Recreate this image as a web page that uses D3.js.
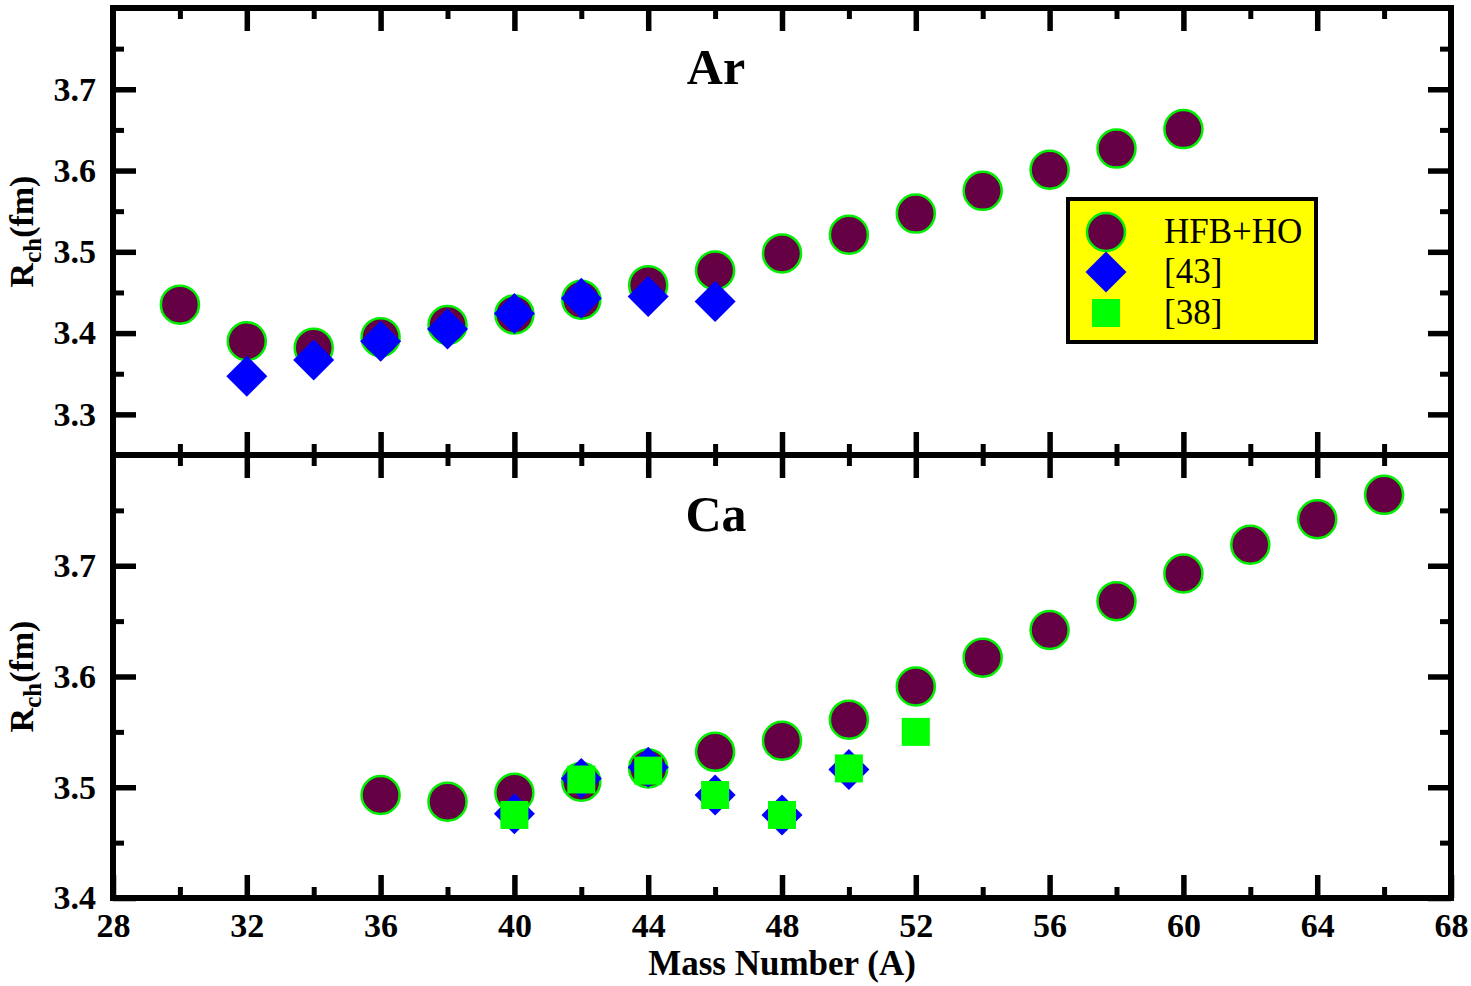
<!doctype html>
<html lang="en">
<head>
<meta charset="utf-8">
<title>Charge radii Ar / Ca</title>
<script src="https://cdn.jsdelivr.net/npm/d3@7"></script>
<style>
  body { margin: 0; background: #fff; }
  text { font-family: "Liberation Serif", "Times New Roman", serif; }
</style>
</head>
<body>
<div id="chart"></div>
<script>
// ---- data ----
var xMajor = [28, 32, 36, 40, 44, 48, 52, 56, 60, 64, 68];
var xMinor = [30, 34, 38, 42, 46, 50, 54, 58, 62, 66];

// Ar panel
var arMassHFB = [30, 32, 34, 36, 38, 40, 42, 44, 46, 48, 50, 52, 54, 56, 58, 60];
var arRadHFB = [3.435, 3.390, 3.382, 3.395, 3.410, 3.423, 3.441, 3.459, 3.477, 3.498, 3.521, 3.547, 3.575, 3.601, 3.627, 3.651];
var arMass43 = [32, 34, 36, 38, 40, 42, 44, 46];
var arRad43 = [3.347, 3.367, 3.390, 3.405, 3.424, 3.443, 3.445, 3.439];
var arYMajor = [3.3, 3.4, 3.5, 3.6, 3.7];
var arYMinor = [3.35, 3.45, 3.55, 3.65, 3.75];

// Ca panel
var caMassHFB = [36, 38, 40, 42, 44, 46, 48, 50, 52, 54, 56, 58, 60, 62, 64, 66];
var caRadHFB = [3.493, 3.487, 3.495, 3.505, 3.517, 3.532, 3.542, 3.561, 3.591, 3.617, 3.642, 3.668, 3.693, 3.719, 3.742, 3.764];
var caMass43 = [40, 42, 44, 46, 48, 50];
var caRad43 = [3.476, 3.508, 3.518, 3.493, 3.475, 3.516];
var caMass38 = [40, 42, 44, 46, 48, 50, 52];
var caRad38 = [3.475, 3.507, 3.515, 3.493, 3.475, 3.517, 3.550];
var caYMajor = [3.4, 3.5, 3.6, 3.7];
var caYMinor = [3.45, 3.55, 3.65, 3.75];

var legendLabels = ["HFB+HO", "[43]", "[38]"];

// ---- layout ----
var W = 1471, H = 986;
var pLeft = 113, pRight = 1451, pTop = 8, pMid = 455, pBottom = 898;

var svg = d3.select("#chart").append("svg")
  .attr("width", W).attr("height", H);

var x = d3.scaleLinear().domain([28, 68]).range([pLeft, pRight]);

function zip(a, b) {
  return a.map(function(d, i) { return {x: d, y: b[i]}; });
}

function styleAxis(g, w) {
  g.select(".domain").remove();
  g.selectAll(".tick line").attr("stroke", "#000").attr("stroke-width", w);
  g.selectAll(".tick text")
    .attr("fill", "#000")
    .style("font-family", "'Liberation Serif', serif")
    .style("font-weight", "bold")
    .style("font-size", "34px");
}

function drawPanel(y0, y1, domain, yMajor, yMinor, showX, name) {
  var y = d3.scaleLinear().domain(domain).range([y1, y0]);
  var g = svg.append("g");
  var major = 23, minor = 11;

  // left
  g.append("g").attr("transform", "translate(" + pLeft + ",0)")
    .call(d3.axisLeft(y).tickValues(yMajor).tickSize(-major).tickPadding(17).tickFormat(d3.format(".1f")))
    .call(styleAxis, 5.5);
  g.append("g").attr("transform", "translate(" + pLeft + ",0)")
    .call(d3.axisLeft(y).tickValues(yMinor).tickSize(-minor).tickFormat(""))
    .call(styleAxis, 5);
  // right
  g.append("g").attr("transform", "translate(" + pRight + ",0)")
    .call(d3.axisRight(y).tickValues(yMajor).tickSize(-major).tickFormat(""))
    .call(styleAxis, 5.5);
  g.append("g").attr("transform", "translate(" + pRight + ",0)")
    .call(d3.axisRight(y).tickValues(yMinor).tickSize(-minor).tickFormat(""))
    .call(styleAxis, 5);
  // top
  g.append("g").attr("transform", "translate(0," + y0 + ")")
    .call(d3.axisTop(x).tickValues(xMajor.slice(1, -1)).tickSize(-major).tickFormat(""))
    .call(styleAxis, 5.5);
  g.append("g").attr("transform", "translate(0," + y0 + ")")
    .call(d3.axisTop(x).tickValues(xMinor).tickSize(-minor).tickFormat(""))
    .call(styleAxis, 5);
  // bottom
  g.append("g").attr("transform", "translate(0," + y1 + ")")
    .call(d3.axisBottom(x).tickValues(showX ? xMajor : xMajor.slice(1, -1)).tickSize(-major).tickPadding(15)
      .tickFormat(showX ? d3.format("d") : ""))
    .call(styleAxis, 5.5);
  g.append("g").attr("transform", "translate(0," + y1 + ")")
    .call(d3.axisBottom(x).tickValues(xMinor).tickSize(-minor).tickFormat(""))
    .call(styleAxis, 5);

  // frame
  g.append("rect")
    .attr("x", pLeft).attr("y", y0)
    .attr("width", pRight - pLeft).attr("height", y1 - y0)
    .attr("fill", "none").attr("stroke", "#000").attr("stroke-width", 6);

  // panel title
  g.append("text")
    .attr("x", 716).attr("y", y0 + 76)
    .attr("text-anchor", "middle")
    .style("font-weight", "bold").style("font-size", "50px")
    .text(name);

  // y title
  var yt = g.append("text")
    .attr("transform", "translate(33," + ((y0 + y1) / 2) + ") rotate(-90)")
    .attr("text-anchor", "middle")
    .style("font-weight", "bold").style("font-size", "34px");
  yt.append("tspan").text("R");
  yt.append("tspan").attr("dy", 8).style("font-size", "25px").text("ch");
  yt.append("tspan").attr("dy", -8).text("(fm)");

  return {g: g, y: y};
}

function circles(p, data) {
  p.g.append("g").selectAll("circle").data(data).enter().append("circle")
    .attr("cx", function(d) { return x(d.x); })
    .attr("cy", function(d) { return p.y(d.y); })
    .attr("r", 19)
    .attr("fill", "#660044")
    .attr("stroke", "#00ee00").attr("stroke-width", 2.5);
}

var diamondPath = "M0,-20.5L20.5,0L0,20.5L-20.5,0Z";
function diamonds(p, data) {
  p.g.append("g").selectAll("path").data(data).enter().append("path")
    .attr("d", diamondPath)
    .attr("transform", function(d) { return "translate(" + x(d.x) + "," + p.y(d.y) + ")"; })
    .attr("fill", "#0000ff");
}

function squares(p, data) {
  p.g.append("g").selectAll("rect").data(data).enter().append("rect")
    .attr("x", function(d) { return x(d.x) - 14; })
    .attr("y", function(d) { return p.y(d.y) - 14; })
    .attr("width", 28).attr("height", 28)
    .attr("fill", "#00ff00");
}

var ar = drawPanel(pTop, pMid, [3.25, 3.8], arYMajor, arYMinor, false, "Ar");
var ca = drawPanel(pMid, pBottom, [3.4, 3.8], caYMajor, caYMinor, true, "Ca");

circles(ar, zip(arMassHFB, arRadHFB));
diamonds(ar, zip(arMass43, arRad43));

circles(ca, zip(caMassHFB, caRadHFB));
diamonds(ca, zip(caMass43, caRad43));
squares(ca, zip(caMass38, caRad38));

// x title
svg.append("text")
  .attr("x", 782).attr("y", 975)
  .attr("text-anchor", "middle")
  .style("font-weight", "bold").style("font-size", "35px")
  .text("Mass Number (A)");

// legend
var lg = svg.append("g").attr("transform", "translate(1068,199)");
lg.append("rect")
  .attr("width", 248).attr("height", 143)
  .attr("fill", "#ffff00").attr("stroke", "#000").attr("stroke-width", 4);
var rowY = [33, 73, 114];
lg.append("circle").attr("cx", 38).attr("cy", rowY[0]).attr("r", 19)
  .attr("fill", "#660044").attr("stroke", "#00ee00").attr("stroke-width", 2.5);
lg.append("path").attr("d", diamondPath)
  .attr("transform", "translate(38," + rowY[1] + ")").attr("fill", "#0000ff");
lg.append("rect").attr("x", 24).attr("y", rowY[2] - 14).attr("width", 28).attr("height", 28)
  .attr("fill", "#00ff00");
lg.selectAll("text.lab").data(legendLabels).enter().append("text")
  .attr("class", "lab")
  .attr("x", 96)
  .attr("y", function(d, i) { return rowY[i] + 11; })
  .style("font-size", "35px")
  .text(function(d) { return d; });
</script>
</body>
</html>
